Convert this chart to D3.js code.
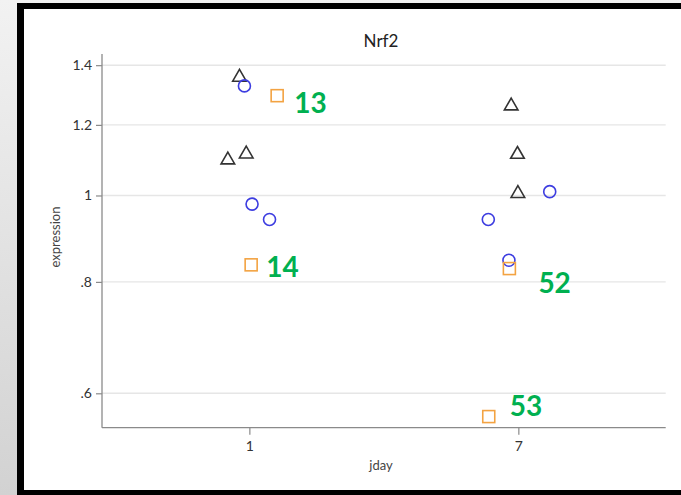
<!DOCTYPE html>
<html>
<head>
<meta charset="utf-8">
<script src="https://cdn.jsdelivr.net/npm/d3@7"></script>
<style>
  html, body { margin: 0; padding: 0; background: #fff; }
  svg { display: block; }
  text { font-family: Lato, "Open Sans", sans-serif; }
</style>
</head>
<body>
<svg id="chart" width="681" height="495"></svg>
<script>
// Nrf2 expression by day, three groups, jittered around each day
const dayTicks = [1, 7];
const yTickValues = [0.6, 0.8, 1, 1.2, 1.4];
const yTickLabels = [".6", ".8", "1", "1.2", "1.4"];

// group A (triangles)
const triDay    = [1, 1, 1, 7, 7, 7];
const triJitter = [-0.22, -0.48, -0.07, -0.16, -0.02, -0.01];
const triValue  = [1.357, 1.096, 1.113, 1.260, 1.112, 1.005];

// group B (circles)
const circDay    = [1, 1, 1, 7, 7, 7];
const circJitter = [-0.11, 0.06, 0.45, 0.70, -0.67, -0.21];
const circValue  = [1.327, 0.978, 0.940, 1.010, 0.940, 0.846];

// group C (squares) with sample ids
const sqDay    = [1, 1, 7, 7];
const sqJitter = [0.62, 0.04, -0.20, -0.66];
const sqValue  = [1.294, 0.836, 0.828, 0.565];
const sqId     = ["13", "14", "52", "53"];
// label offsets (px) next to each square
const sqLabelDx = [17, 15, 29, 21];
const sqLabelDy = [7, 2, 14, -11];

const svg = d3.select("#chart");
const W = 681, H = 495;

// page backdrop and frame
const defs = svg.append("defs");
const grad = defs.append("linearGradient").attr("id", "side").attr("x1", 0).attr("y1", 0).attr("x2", 0).attr("y2", 1);
grad.append("stop").attr("offset", 0).attr("stop-color", "#f2f2f2");
grad.append("stop").attr("offset", 1).attr("stop-color", "#d2d2d2");
svg.append("rect").attr("x", 0).attr("y", 0).attr("width", W).attr("height", H).attr("fill", "url(#side)");
svg.append("rect").attr("x", 17).attr("y", 3).attr("width", W - 17).attr("height", H - 3).attr("fill", "#000");
svg.append("rect").attr("x", 24).attr("y", 9).attr("width", W - 24).attr("height", 481).attr("fill", "#fff");

// scales
const x = d3.scaleLinear().domain([4 - 6.287, 4 + 6.287]).range([102, 665.7]);
const y = d3.scaleLog().domain([0.549, 1.441]).range([427.7, 54]);

// gridlines
svg.append("g").selectAll("line").data(yTickValues).join("line")
  .attr("x1", x.range()[0]).attr("x2", x.range()[1])
  .attr("y1", d => y(d)).attr("y2", d => y(d))
  .attr("stroke", "#e6e6e6").attr("stroke-width", 1.4);

// y axis
const yAxis = d3.axisLeft(y).tickValues(yTickValues)
  .tickFormat((d, i) => yTickLabels[i]).tickSizeOuter(0).tickSize(6).tickPadding(4);
const gy = svg.append("g").attr("transform", `translate(${x.range()[0]},0)`).call(yAxis);
gy.select(".domain").attr("stroke", "#8a8a8a").attr("stroke-width", 1.3)
  .attr("d", `M0,${y.range()[1]}V${y.range()[0]}`);
gy.selectAll(".tick line").attr("stroke", "#8a8a8a").attr("stroke-width", 1.2);
gy.selectAll(".tick text").attr("fill", "#333").style("font-size", "14px")
  .style("font-family", "Lato, 'Open Sans', sans-serif");

// x axis
const xAxis = d3.axisBottom(x).tickValues(dayTicks).tickFormat(d3.format("d"))
  .tickSizeOuter(0).tickSize(7).tickPadding(6);
const gx = svg.append("g").attr("transform", `translate(0,${y.range()[0]})`).call(xAxis);
gx.select(".domain").attr("stroke", "#8a8a8a").attr("stroke-width", 1.3)
  .attr("d", `M${x.range()[0]},0H${x.range()[1]}`);
gx.selectAll(".tick line").attr("stroke", "#8a8a8a").attr("stroke-width", 1.2);
gx.selectAll(".tick text").attr("fill", "#333").style("font-size", "14px")
  .style("font-family", "Lato, 'Open Sans', sans-serif");

// titles
svg.append("text").attr("x", 381).attr("y", 47).attr("text-anchor", "middle")
  .attr("fill", "#222").style("font-size", "17px").text("Nrf2");
svg.append("text").attr("x", 381).attr("y", 470).attr("text-anchor", "middle")
  .attr("fill", "#444").style("font-size", "13px").text("jday");
svg.append("text").attr("transform", "translate(60,237) rotate(-90)").attr("text-anchor", "middle")
  .attr("fill", "#444").style("font-size", "13px").text("expression");

// marks
const px = (day, jit) => x(day + jit);

const triangle = d3.symbol().type(d3.symbolTriangle).size(80);
svg.append("g").selectAll("path").data(triValue).join("path")
  .attr("d", triangle)
  .attr("transform", (d, i) => `translate(${px(triDay[i], triJitter[i])},${y(d)})`)
  .attr("fill", "none").attr("stroke", "#333").attr("stroke-width", 1.6);

svg.append("g").selectAll("circle").data(circValue).join("circle")
  .attr("cx", (d, i) => px(circDay[i], circJitter[i]))
  .attr("cy", d => y(d)).attr("r", 6)
  .attr("fill", "none").attr("stroke", "#3d3de0").attr("stroke-width", 1.6);

const side = 12;
svg.append("g").selectAll("rect").data(sqValue).join("rect")
  .attr("x", (d, i) => px(sqDay[i], sqJitter[i]) - side / 2)
  .attr("y", d => y(d) - side / 2)
  .attr("width", side).attr("height", side)
  .attr("fill", "none").attr("stroke", "#f3a342").attr("stroke-width", 1.6);

svg.append("g").selectAll("text").data(sqValue).join("text")
  .attr("x", (d, i) => px(sqDay[i], sqJitter[i]) + sqLabelDx[i])
  .attr("y", (d, i) => y(d) + sqLabelDy[i] + 10)
  .attr("fill", "#00b050").style("font-size", "28px").style("font-weight", "bold")
  .text((d, i) => sqId[i]);
</script>
</body>
</html>
